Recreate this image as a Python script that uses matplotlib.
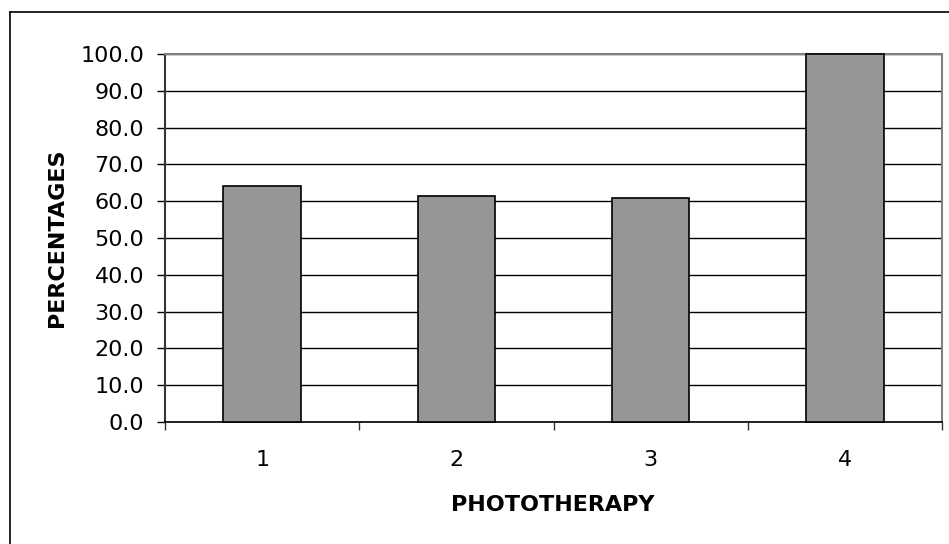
# -*- coding: utf-8 -*-

import numpy as np
import matplotlib
matplotlib.use('Agg')
import matplotlib.pyplot as plt
from matplotlib.lines import Line2D
from matplotlib.ticker import FixedLocator, FormatStrFormatter

# phototherapy groups and their percentages
groups = ['1', '2', '3', '4']
percentages = [64.1, 61.5, 60.9, 100.0]
y_ticks = [0, 10, 20, 30, 40, 50, 60, 70, 80, 90, 100]

plt.rcParams['font.family'] = 'DejaVu Sans'

fig = plt.figure(figsize=(9.49, 5.44), dpi=100)
ax = fig.add_axes([165 / 949, 1 - 422 / 544, (942 - 165) / 949, (422 - 54) / 544])

x = np.arange(1, len(groups) + 1)
bars = ax.bar(x, percentages, width=0.4, color='#969696', edgecolor='black', linewidth=1.2, zorder=5)
for b in bars:
    b.set_clip_on(False)

ax.set_xlim(0.5, len(groups) + 0.5)
ax.set_ylim(0, 100)
ax.set_yticks(y_ticks)
ax.yaxis.set_major_formatter(FormatStrFormatter('%.1f'))
ax.yaxis.grid(True, color='black', linewidth=1.0, zorder=0)
ax.set_axisbelow(True)

# tick marks sit between categories, labels under the bars
ax.xaxis.set_major_locator(FixedLocator(np.arange(0.5, len(groups) + 1, 1.0)))
ax.xaxis.set_major_formatter(plt.NullFormatter())
ax.xaxis.set_minor_locator(FixedLocator(x))
ax.set_xticklabels(groups, minor=True)
ax.tick_params(axis='x', which='major', direction='out', length=6, width=1, color='#333333')
ax.tick_params(axis='x', which='minor', length=0, pad=20, labelsize=16)
ax.tick_params(axis='y', direction='out', length=6, width=1, pad=9, labelsize=16)

for side in ['top', 'right']:
    ax.spines[side].set_color('#808080')
    ax.spines[side].set_linewidth(1.5)
ax.spines['left'].set_color('#333333')
ax.spines['left'].set_linewidth(1.5)
ax.spines['bottom'].set_color('black')
ax.spines['bottom'].set_linewidth(1.2)
for sp in ax.spines.values():
    sp.set_zorder(4)

fig.text(553 / 949, 1 - 505 / 544, 'PHOTOTHERAPY', ha='center', va='center',
         fontsize=16, fontweight='bold')
fig.text(57 / 949, 1 - 238 / 544, 'PERCENTAGES', ha='center', va='center',
         rotation=90, fontsize=16, fontweight='bold')

# chart frame (left and top edges)
fig.add_artist(Line2D([9.5 / 949, 9.5 / 949], [0, 1 - 12 / 544], color='black', linewidth=1.2,
                      transform=fig.transFigure))
fig.add_artist(Line2D([9.5 / 949, 1], [1 - 12 / 544, 1 - 12 / 544], color='black', linewidth=1.2,
                      transform=fig.transFigure))

fig.savefig('out.png', dpi=100)
